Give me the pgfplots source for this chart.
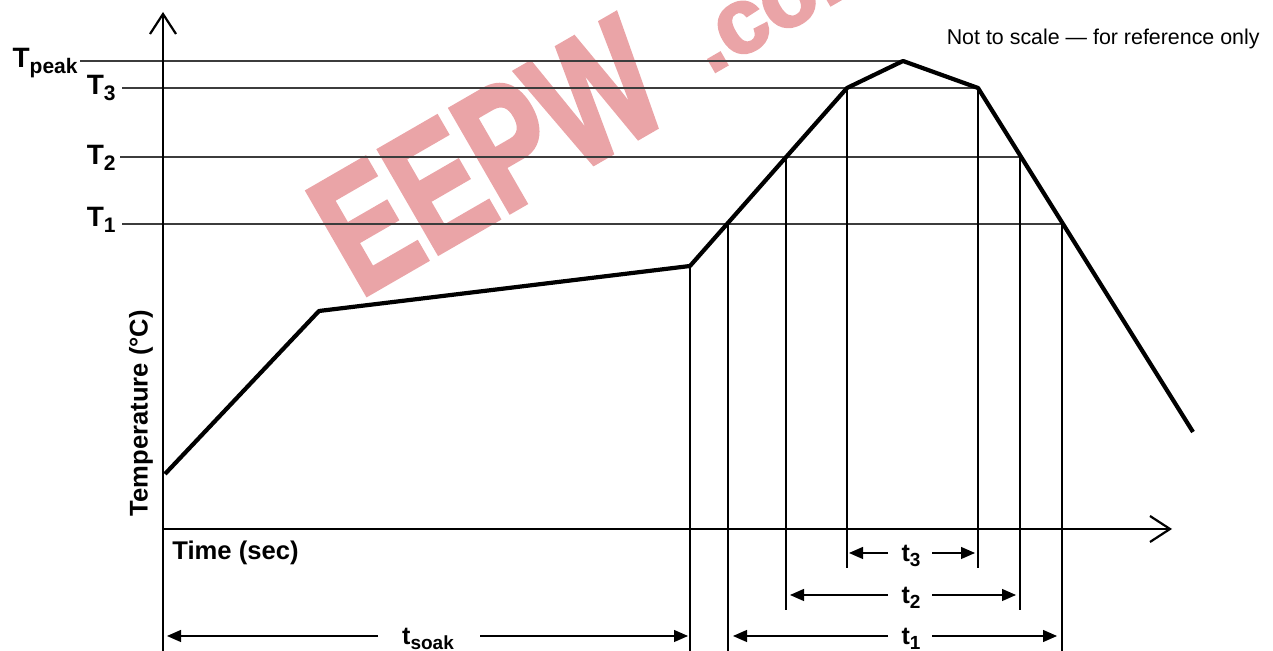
\documentclass[border=0pt]{standalone}
\usepackage{pgfplots}
\pgfplotsset{compat=1.18}
\usetikzlibrary{arrows.meta}
\usepackage{fontspec}
\setmainfont{Liberation Sans}
\newfontfamily\wmfont{Liberation Sans}[BoldFeatures={FakeBold=3}]
\definecolor{wm}{RGB}{234,164,167}
\definecolor{hl}{RGB}{60,60,60}
\newcommand{\TL}[1]{\fontsize{14pt}{14pt}\selectfont\bfseries T\raisebox{-2.8pt}{\fontsize{10.5pt}{10.5pt}\selectfont #1}}
\newcommand{\tl}[1]{\fontsize{12.5pt}{12.5pt}\selectfont\bfseries t\raisebox{-2.4pt}{\fontsize{9.5pt}{9.5pt}\selectfont #1}}
\begin{document}
\begin{tikzpicture}
\useasboundingbox (0,0) rectangle (636.5pt,325.5pt);
\begin{axis}[at={(0,0)}, anchor=origin, scale only axis,
  width=636.5pt, height=325.5pt,
  xmin=0, xmax=1273, ymin=0, ymax=651,
  hide axis, clip=false]
% watermark
\node[rotate=30, xscale=0.72, text=wm, font=\fontsize{86pt}{86pt}\wmfont\bfseries] at (488,495) {EEPW};
\node[rotate=30, text=wm, font=\fontsize{46pt}{46pt}\wmfont\bfseries, anchor=west] at (692,594) {.com};
% temperature levels
\draw[hl, line width=0.75pt] (80,590) -- (903,590);
\draw[hl, line width=0.75pt] (122,563) -- (978,563);
\draw[hl, line width=0.75pt] (120,494) -- (1020,494);
\draw[hl, line width=0.75pt] (122,427) -- (1062,427);
% vertical time markers
\draw[black, line width=0.55pt] (163,122) -- (163,0);
\draw[black, line width=0.55pt] (690,385) -- (690,0);
\draw[black, line width=0.55pt] (728,427) -- (728,0);
\draw[black, line width=0.55pt] (786,494) -- (786,41);
\draw[black, line width=0.55pt] (847,563) -- (847,83);
\draw[black, line width=0.55pt] (978,563) -- (978,83);
\draw[black, line width=0.55pt] (1020,494) -- (1020,41);
\draw[black, line width=0.55pt] (1062,427) -- (1062,0);
% axes
\draw[line width=1.4pt, -{Straight Barb[length=10pt,width=13pt,line width=1.1pt]}] (163,121) -- (163,639);
\draw[line width=1.4pt, -{Straight Barb[length=10pt,width=13pt,line width=1.1pt]}] (163,122) -- (1172,122);
% profile
\addplot[black, line width=2.1pt, line join=round, mark=none] coordinates {
 (165,177) (319,340) (690,385) (847,563) (903,590) (978,563) (1193,219)
};
% dimension arrows
\draw[line width=0.6pt, -{Triangle[length=7pt,width=6pt]}] (888,98) -- (849,98);
\draw[line width=0.6pt, -{Triangle[length=7pt,width=6pt]}] (932,98) -- (975,98);
\draw[line width=0.6pt, -{Triangle[length=7pt,width=6pt]}] (888,56) -- (790,56);
\draw[line width=0.6pt, -{Triangle[length=7pt,width=6pt]}] (932,56) -- (1016,56);
\draw[line width=0.6pt, -{Triangle[length=7pt,width=6pt]}] (888,15) -- (733,15);
\draw[line width=0.6pt, -{Triangle[length=7pt,width=6pt]}] (932,15) -- (1057,15);
\draw[line width=0.6pt, -{Triangle[length=7pt,width=6pt]}] (378,15) -- (167,15);
\draw[line width=0.6pt, -{Triangle[length=7pt,width=6pt]}] (480,15) -- (688,15);
\node[anchor=base, inner sep=0pt] at (911,89) {\tl{3}};
\node[anchor=base, inner sep=0pt] at (911,47) {\tl{2}};
\node[anchor=base, inner sep=0pt] at (911,6) {\tl{1}};
\node[anchor=base, inner sep=0pt] at (428,6) {\tl{soak}};
% temperature labels
\node[anchor=base east, inner sep=0pt] at (78,583) {\TL{peak}};
\node[anchor=base east, inner sep=0pt] at (116,556) {\TL{3}};
\node[anchor=base east, inner sep=0pt] at (116,486) {\TL{2}};
\node[anchor=base east, inner sep=0pt] at (116,424) {\TL{1}};
% axis labels
\node[anchor=base west, inner sep=0pt, font=\fontsize{12.8pt}{12.8pt}\selectfont\bfseries] at (172,91) {Time (sec)};
\node[rotate=90, inner sep=0pt, font=\fontsize{12.8pt}{12.8pt}\selectfont\bfseries] at (141,238) {Temperature (°C)};
\node[anchor=base east, inner sep=0pt, font=\fontsize{10.7pt}{10.7pt}\selectfont] at (1260,606) {Not to scale — for reference only};
\end{axis}
\end{tikzpicture}
\end{document}
